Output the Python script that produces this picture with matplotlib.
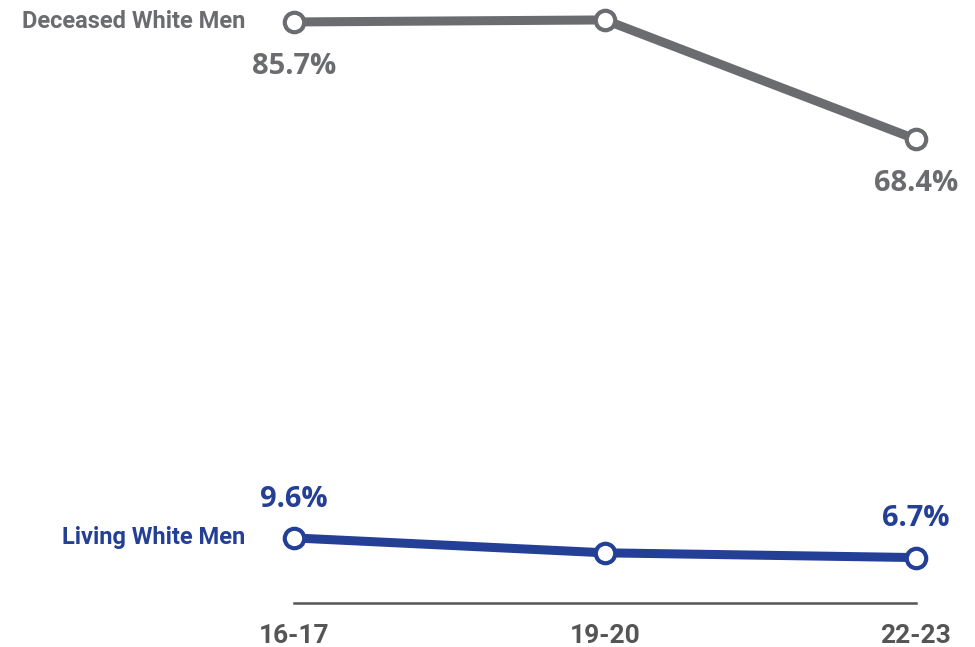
import matplotlib
matplotlib.use("Agg")
import matplotlib.pyplot as plt

periods = ["16-17", "19-20", "22-23"]
deceased = [85.7, 86.0, 68.4]
living = [9.6, 7.4, 6.7]
deceased_labels = ["85.7%", None, "68.4%"]
living_labels = ["9.6%", None, "6.7%"]

GRAY = "#6b6c70"
BLUE = "#233f96"

fig = plt.figure(figsize=(9.75, 6.47), dpi=100)
ax = fig.add_axes([0, 0, 1, 1])
ax.set_xlim(-0.945, 2.19)
ax.set_ylim(-6.49, 88.94)
ax.axis("off")

x = list(range(len(periods)))
for vals, col in [(deceased, GRAY), (living, BLUE)]:
    ax.plot(x, vals, color=col, lw=6.5, solid_capstyle="butt", zorder=2)
    ax.plot(x, vals, "o", ms=14, mfc="white", mec=col, mew=3, zorder=3)

# baseline axis
ax.plot([0, 2], [0, 0], color="#555555", lw=1.8, zorder=1)

num_font = dict(family="Open Sans", weight="bold", size=21)
for i, lab in enumerate(deceased_labels):
    if lab:
        ax.annotate(lab, (i, deceased[i]), xytext=(0, -32), textcoords="offset points",
                    ha="center", va="center", color=GRAY, **num_font)
for i, lab in enumerate(living_labels):
    if lab:
        ax.annotate(lab, (i, living[i]), xytext=(0, 28), textcoords="offset points",
                    ha="center", va="center", color=BLUE, **num_font)

lab_font = dict(family="Roboto", weight="bold", size=17)
ax.annotate("Deceased White Men", (0, deceased[0]), xytext=(-35, 0), textcoords="offset points",
            ha="right", va="center", color=GRAY, **lab_font)
ax.annotate("Living White Men", (0, living[0]), xytext=(-35, 0), textcoords="offset points",
            ha="right", va="center", color=BLUE, **lab_font)

for i, p in enumerate(periods):
    ax.annotate(p, (i, 0), xytext=(0, -23.5), textcoords="offset points",
                ha="center", va="center", color="#555555", family="Roboto", weight="bold", size=19)

fig.savefig("out.png", dpi=100)
